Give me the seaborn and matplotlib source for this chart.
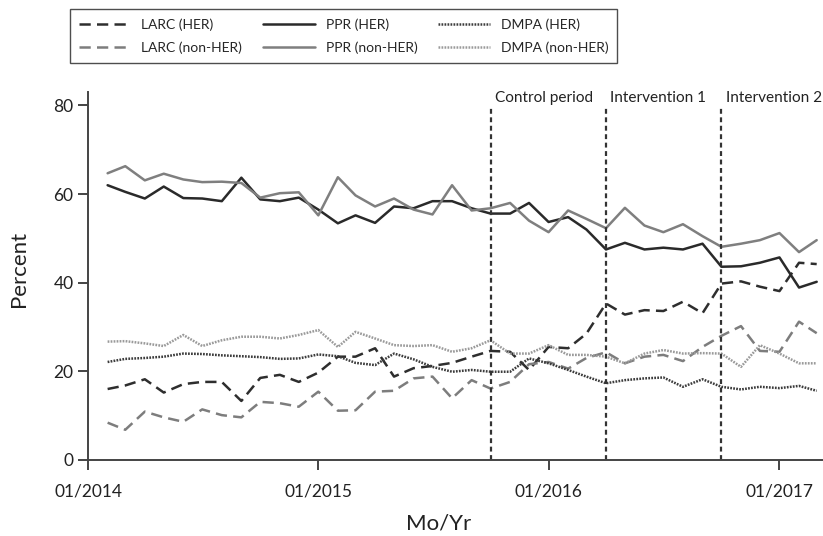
import matplotlib
matplotlib.use("Agg")
import matplotlib.pyplot as plt
import matplotlib.dates as mdates
import pandas as pd
import seaborn as sns

# monthly values, 02/2014 .. 03/2017
months = pd.date_range("2014-02-01", "2017-03-01", freq="MS")

ppr_her = [62.0, 60.5, 59.0, 61.7, 59.1, 59.0, 58.4, 63.7, 58.8, 58.4, 59.2, 56.5,
           53.4, 55.2, 53.5, 57.2, 56.8, 58.4, 58.4, 56.8, 55.6, 55.6, 58.0, 53.7,
           54.8, 52.0, 47.5, 49.0, 47.5, 47.9, 47.5, 48.8, 43.6, 43.7, 44.5, 45.7, 38.9, 40.2]
ppr_non = [64.7, 66.3, 63.1, 64.6, 63.3, 62.7, 62.8, 62.5, 59.2, 60.2, 60.4, 55.2,
           63.8, 59.7, 57.2, 59.0, 56.5, 55.4, 62.0, 56.3, 56.8, 58.0, 54.0, 51.4,
           56.3, 54.4, 52.3, 56.9, 52.9, 51.4, 53.2, 50.5, 48.1, 48.8, 49.6, 51.2, 46.9, 49.6]
larc_her = [16.0, 16.8, 18.2, 15.2, 17.1, 17.6, 17.6, 13.3, 18.5, 19.2, 17.6, 19.7,
            23.3, 23.3, 25.2, 18.8, 20.7, 21.2, 21.9, 23.3, 24.6, 24.4, 20.3, 25.5,
            25.2, 28.5, 35.3, 32.8, 33.8, 33.6, 35.7, 33.1, 39.8, 40.3, 39.1, 38.1, 44.5, 44.2]
larc_non = [8.4, 6.8, 10.9, 9.6, 8.6, 11.4, 10.1, 9.6, 13.1, 12.8, 12.0, 15.4,
            11.1, 11.2, 15.4, 15.6, 18.4, 18.8, 13.9, 18.0, 16.1, 17.6, 21.6, 22.1,
            20.6, 23.0, 24.3, 21.8, 23.3, 23.7, 22.3, 25.5, 28.0, 30.2, 24.6, 24.4, 31.2, 28.6]
dmpa_her = [22.1, 22.8, 23.0, 23.3, 24.0, 23.9, 23.6, 23.4, 23.2, 22.8, 22.9, 23.8,
            23.4, 21.9, 21.4, 24.0, 22.7, 21.0, 19.9, 20.3, 19.9, 19.9, 22.9, 21.8,
            20.3, 18.8, 17.3, 18.0, 18.4, 18.6, 16.5, 18.2, 16.5, 15.9, 16.5, 16.2, 16.7, 15.6]
dmpa_non = [26.7, 26.8, 26.3, 25.7, 28.2, 25.7, 27.0, 27.8, 27.8, 27.4, 28.2, 29.3,
            25.5, 28.9, 27.4, 25.9, 25.7, 25.9, 24.4, 25.2, 27.0, 24.0, 24.0, 25.9,
            23.7, 23.7, 23.3, 21.8, 24.0, 24.8, 24.0, 24.1, 24.0, 21.0, 25.9, 24.0, 21.8, 21.8]

series_names = ["LARC (HER)", "LARC (non-HER)", "PPR (HER)", "PPR (non-HER)",
                "DMPA (HER)", "DMPA (non-HER)"]
series_values = [larc_her, larc_non, ppr_her, ppr_non, dmpa_her, dmpa_non]

periods = ["Control period", "Intervention 1", "Intervention 2"]
period_starts = pd.to_datetime(["2015-10-01", "2016-04-01", "2016-10-01"])

palette = {
    "LARC (HER)": "#2e2e2e", "LARC (non-HER)": "#7d7d7d",
    "PPR (HER)": "#2a2a2a", "PPR (non-HER)": "#7f7f7f",
    "DMPA (HER)": "#3c3c3c", "DMPA (non-HER)": "#9a9a9a",
}
dashes = {
    "LARC (HER)": (4.5, 2.5), "LARC (non-HER)": (4.5, 2.5),
    "PPR (HER)": "", "PPR (non-HER)": "",
    "DMPA (HER)": (0.7, 0.5), "DMPA (non-HER)": (0.7, 0.5),
}

df = pd.concat(
    [pd.DataFrame({"month": months, "pct": v, "series": n})
     for n, v in zip(series_names, series_values)],
    ignore_index=True,
)

sns.set_theme(style="white")
plt.rcParams["font.family"] = ["Lato", "DejaVu Sans"]

fig = plt.figure(figsize=(8.23, 5.36), dpi=100)
ax = fig.add_axes([0.107, 0.142, 0.893, 0.686])

sns.lineplot(data=df, x="month", y="pct", hue="series", style="series",
             hue_order=series_names, style_order=series_names,
             palette=palette, dashes=dashes, linewidth=1.8, legend=False, ax=ax)
handles = list(ax.get_lines())

for d, lab in zip(period_starts, periods):
    ax.axvline(d, ymin=0, ymax=79.5 / 83, color="#333333", lw=1.6, dashes=(2.2, 1.6))
    ax.text(d + pd.Timedelta(days=7), 81.8, lab, fontsize=11.1, color="#222222",
            ha="left", va="center")

ax.set_xlim(pd.Timestamp("2014-01-01"), pd.Timestamp("2017-03-11"))
ax.set_ylim(0, 83)
ax.set_yticks([0, 20, 40, 60, 80])
ax.set_xticks(pd.to_datetime(["2014-01-01", "2015-01-01", "2016-01-01", "2017-01-01"]))
ax.xaxis.set_major_formatter(mdates.DateFormatter("%m/%Y"))
ax.tick_params(axis="both", labelsize=12.5, length=7, width=1.4, color="#444444",
               labelcolor="#222222", direction="out", bottom=True, left=True)
ax.tick_params(axis="x", pad=10)
for s in ["top", "right"]:
    ax.spines[s].set_visible(False)
for s in ["left", "bottom"]:
    ax.spines[s].set_color("#444444")
    ax.spines[s].set_linewidth(1.4)
ax.set_xlabel("Mo/Yr", fontsize=16, color="#222222")
ax.set_ylabel("Percent", fontsize=16, color="#222222")
ax.xaxis.set_label_coords(0.477, -0.145)
ax.yaxis.set_label_coords(-0.08, 0.52)

leg = fig.legend(handles, series_names, ncol=3, loc="upper left",
                 bbox_to_anchor=(0.085, 0.983), borderaxespad=0, fontsize=10,
                 frameon=True, fancybox=False, edgecolor="#222222", handlelength=3.7,
                 columnspacing=1.5, labelspacing=0.75, borderpad=0.65)
leg.get_frame().set_linewidth(1.0)

fig.savefig("out.png", dpi=100)
